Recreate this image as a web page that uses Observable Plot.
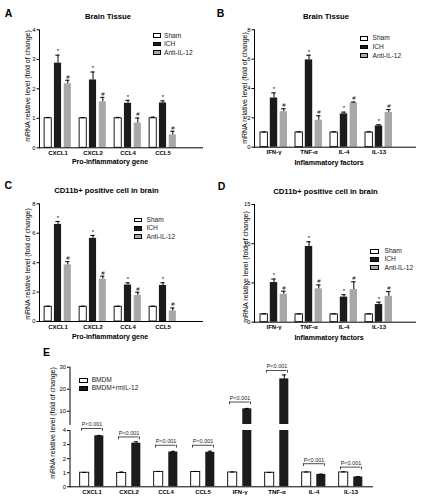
<!DOCTYPE html>
<html><head><meta charset="utf-8">
<script src="https://cdn.jsdelivr.net/npm/d3@7"></script>
<script src="https://cdn.jsdelivr.net/npm/@observablehq/plot@0.6"></script>
<style>
body{margin:0;background:#fff;}
#fig{position:relative;width:426px;height:500px;overflow:hidden;background:#fff;font-family:"Liberation Sans",Arial,sans-serif;color:#000;}
#fig svg{position:absolute;left:0;top:0;}
#fig svg g[aria-label^="x-axis"] text{font-weight:bold;font-size:6px;}
#fig svg g[aria-label^="y-axis"] text{font-size:5.8px;}
.t{position:absolute;white-space:nowrap;line-height:1;}
.sw{position:absolute;box-sizing:border-box;}
</style></head>
<body><div id="fig"></div>
<script>
// ---------- DATA ----------
const geneCats = ["CXCL1", "CXCL2", "CCL4", "CCL5"];
const factorCats = ["IFN-γ", "TNF-α", "IL-4", "IL-13"];
const eCats = ["CXCL1", "CXCL2", "CCL4", "CCL5", "IFN-γ", "TNF-α", "IL-4", "IL-13"];
const groupNames = ["Sham", "ICH", "Anti-IL-12"];
const groupSymbols = ["", "*", "#"];
const eGroupNames = ["BMDM", "BMDM+rmIL-12"];
const yTitle = "mRNA relative level (fold of change)";
const pLabel = "P<0.001";

// A: Brain tissue, pro-inflammatory genes
const aSham = [1.00, 1.00, 1.00, 1.00];
const aShamErr = [0.03, 0.02, 0.03, 0.04];
const aICH = [2.87, 2.30, 1.51, 1.52];
const aICHErr = [0.27, 0.27, 0.10, 0.07];
const aAnti = [2.17, 1.56, 0.84, 0.44];
const aAntiErr = [0.12, 0.15, 0.17, 0.12];
const aYTicks = [0, 1, 2, 3, 4];

// B: Brain tissue, inflammatory factors
const bSham = [1.00, 1.00, 1.00, 1.00];
const bShamErr = [0.04, 0.05, 0.05, 0.05];
const bICH = [3.35, 5.95, 2.27, 1.45];
const bICHErr = [0.35, 0.32, 0.12, 0.08];
const bAnti = [2.42, 1.84, 3.02, 2.37];
const bAntiErr = [0.20, 0.30, 0.06, 0.20];
const bYTicks = [0, 2, 4, 6, 8];

// C: CD11b+ cells, pro-inflammatory genes
const cSham = [1.00, 1.00, 1.00, 1.00];
const cShamErr = [0.04, 0.04, 0.04, 0.04];
const cICH = [6.60, 5.65, 2.48, 2.45];
const cICHErr = [0.20, 0.20, 0.15, 0.18];
const cAnti = [3.85, 2.88, 1.77, 0.72];
const cAntiErr = [0.22, 0.20, 0.22, 0.20];
const cYTicks = [0, 2, 4, 6, 8];

// D: CD11b+ cells, inflammatory factors
const dSham = [1.00, 1.00, 1.00, 1.00];
const dShamErr = [0.05, 0.05, 0.05, 0.05];
const dICH = [5.05, 9.65, 3.20, 2.25];
const dICHErr = [0.45, 0.60, 0.30, 0.30];
const dAnti = [3.55, 4.25, 4.15, 3.30];
const dAntiErr = [0.40, 0.50, 1.00, 0.60];
const dYTicks = [0, 5, 10, 15];

// E: BMDM vs BMDM+rmIL-12 (broken axis)
const eBMDM = [1.00, 0.98, 1.06, 1.05, 1.02, 1.00, 1.02, 1.02];
const eBMDMErr = [0.02, 0.07, 0.03, 0.04, 0.03, 0.02, 0.03, 0.04];
const eRm = [3.62, 3.10, 2.47, 2.45, 11.1, 24.7, 0.88, 0.70];
const eRmErr = [0.03, 0.10, 0.05, 0.08, 0.20, 1.80, 0.02, 0.02];
const eBracket = [4.14, 3.54, 2.95, 2.95, 14.2, 28.5, 1.64, 1.40];
const eYTicksLow = [0, 1, 2, 3, 4];
const eYTicksHigh = [10, 20, 30];

// ---------- STYLE ----------
const colSham = "#ffffff", colICH = "#1b1b1b", colAnti = "#a8a8a8";
const fig = document.getElementById("fig");

function barPanel(p) {
  const n = p.cats.length;
  const bw = (p.xRange[1] - p.xRange[0]) / n;
  const marks = [];
  p.series.forEach((s, i) => {
    const d = p.cats.map((c, j) => ({cat: c, v: s.vals[j], top: s.vals[j] + s.errs[j]}));
    const dx = p.offsets[i];
    const ins = (bw - p.barW) / 2, cins = (bw - p.capW) / 2;
    marks.push(Plot.barY(d, {x: "cat", y: "v", dx, insetLeft: ins, insetRight: ins, fill: s.fill, stroke: s.stroke || "none", strokeWidth: 0.9, clip: p.clip}));
    marks.push(Plot.ruleX(d, {x: "cat", y1: "v", y2: "top", dx, stroke: "#000", strokeWidth: 1, clip: p.clip}));
    marks.push(Plot.tickY(d, {x: "cat", y: "top", dx, insetLeft: cins, insetRight: cins, stroke: "#000", strokeWidth: 1, clip: p.clip}));
    if (s.sym) marks.push(Plot.text(d, {x: "cat", y: "top", text: () => s.sym, dx, dy: -3.6, fontSize: 6, fill: "#000", clip: p.clip}));
  });
  if (p.extra) marks.push(...p.extra(bw));
  if (p.xAxis) marks.push(Plot.ruleY([p.yDomain[0]], {stroke: "#000", strokeWidth: 1}));
  const svg = Plot.plot({
    width: 426, height: 500,
    marginLeft: p.frame.l, marginRight: 426 - p.frame.r,
    marginTop: p.frame.t, marginBottom: 500 - p.frame.b,
    x: {domain: p.cats, range: p.xRange, padding: 0, axis: p.xAxis ? "bottom" : null, tickSize: 0, tickPadding: 3, label: null},
    y: {domain: p.yDomain, ticks: p.yTicks, tickSize: 2.5, tickPadding: 1.5, line: true, label: null, tickFormat: d => String(d)},
    style: {background: "none", overflow: "visible", fontFamily: "Liberation Sans, Arial, sans-serif", fontSize: "5.8px", color: "#000"},
    marks
  });
  fig.appendChild(svg);
}

function three(sham, shamErr, ich, ichErr, anti, antiErr) {
  return [
    {vals: sham, errs: shamErr, fill: colSham, stroke: "#000", sym: groupSymbols[0]},
    {vals: ich, errs: ichErr, fill: colICH, sym: groupSymbols[1]},
    {vals: anti, errs: antiErr, fill: colAnti, sym: groupSymbols[2]}
  ];
}

const leftLayout = {xRange: [39.5, 180.5], offsets: [-9.8, 0, 9.8], barW: 7.4, capW: 4.5};
const rightLayout = {xRange: [255.8, 395.8], offsets: [-9.8, 0, 9.8], barW: 7.4, capW: 4.5};

barPanel({...leftLayout, cats: geneCats, series: three(aSham, aShamErr, aICH, aICHErr, aAnti, aAntiErr),
  frame: {l: 39, r: 203, t: 29.3, b: 147.3}, yDomain: [0, 4], yTicks: aYTicks, xAxis: true});
barPanel({...rightLayout, cats: factorCats, series: three(bSham, bShamErr, bICH, bICHErr, bAnti, bAntiErr),
  frame: {l: 254, r: 416, t: 29.3, b: 146.7}, yDomain: [0, 8], yTicks: bYTicks, xAxis: true});
barPanel({...leftLayout, cats: geneCats, series: three(cSham, cShamErr, cICH, cICHErr, cAnti, cAntiErr),
  frame: {l: 39, r: 203, t: 203.3, b: 321}, yDomain: [0, 8], yTicks: cYTicks, xAxis: true});
barPanel({...rightLayout, cats: factorCats, series: three(dSham, dShamErr, dICH, dICHErr, dAnti, dAntiErr),
  frame: {l: 254, r: 416, t: 204, b: 321.7}, yDomain: [0, 15], yTicks: dYTicks, xAxis: true});

// E: broken axis drawn as two stacked plots sharing x
const eSeries = [
  {vals: eBMDM, errs: eBMDMErr, fill: colSham, stroke: "#000"},
  {vals: eRm, errs: eRmErr, fill: colICH}
];
const eBrackets = eCats.map((c, j) => ({cat: c, b: eBracket[j]}));
const eBreak = 4;
function bracketMarks(data, drop) {
  return (bw) => {
    const half = 10.5, ins = bw / 2 - half;
    return [
      Plot.tickY(data, {x: "cat", y: "b", insetLeft: ins, insetRight: ins, stroke: "#000", strokeWidth: 0.7}),
      Plot.ruleX(data, {x: "cat", y1: "b", y2: d => d.b - drop, dx: -half, stroke: "#000", strokeWidth: 0.7}),
      Plot.ruleX(data, {x: "cat", y1: "b", y2: d => d.b - drop, dx: half, stroke: "#000", strokeWidth: 0.7}),
      Plot.text(data, {x: "cat", y: "b", text: () => pLabel, dy: -3.8, fontSize: 5.5, fill: "#222"})
    ];
  };
}
const eLayout = {cats: eCats, series: eSeries, xRange: [69.5, 373], offsets: [-7.3, 7.3], barW: 10, capW: 5, clip: true};
barPanel({...eLayout, frame: {l: 69.5, r: 373, t: 430, b: 486.3}, yDomain: [0, eBreak], yTicks: eYTicksLow, xAxis: true,
  extra: bracketMarks(eBrackets.filter(d => d.b < eBreak + 1), 0.2)});
barPanel({...eLayout, frame: {l: 69.5, r: 373, t: 366.7, b: 424}, yDomain: [eBreak, 30], yTicks: eYTicksHigh, xAxis: false,
  extra: bracketMarks(eBrackets.filter(d => d.b >= eBreak + 1), 1.2)});

// ---------- TEXT & LEGENDS (HTML) ----------
function txt(s, x, y, css, anchor) {
  const el = document.createElement("div");
  el.className = "t";
  el.textContent = s;
  el.style.left = x + "px";
  el.style.top = y + "px";
  el.style.transform = anchor || "translate(-50%,-50%)";
  Object.assign(el.style, css);
  fig.appendChild(el);
}
const letterCss = {fontSize: "10.5px", fontWeight: "bold"};
[["A", 8.5, 12.5], ["B", 220.5, 12.7], ["C", 8.3, 184.5], ["D", 221.5, 186], ["E", 46.5, 351.5]]
  .forEach(([s, x, y]) => txt(s, x, y, letterCss));

const titleCss = {fontSize: "7.7px", fontWeight: "bold"};
txt("Brain Tissue", 108, 16.5, titleCss);
txt("Brain Tissue", 326, 16.5, titleCss);
txt("CD11b+ positive cell in brain", 106.5, 191, titleCss);
txt("CD11b+ positive cell in brain", 325.5, 191.5, titleCss);

const xtCss = {fontSize: "7px", fontWeight: "bold"};
txt("Pro-inflammatory gene", 110, 161, xtCss);
txt("Inflammatory factors", 329, 161.5, xtCss);
txt("Pro-inflammatory gene", 110, 335.5, xtCss);
txt("Inflammatory factors", 329, 337, xtCss);

const ytCss = {fontSize: "7px"};
const rot = "translate(-50%,-50%) rotate(-90deg)";
[[26.5, 86], [243.5, 87.5], [27, 264], [244.5, 266.5], [52, 422.5]]
  .forEach(([x, y]) => txt(yTitle, x, y, ytCss, rot));

function legend(names, fills, boxX, rows, textX, bw, bh) {
  names.forEach((nm, i) => {
    const b = document.createElement("div");
    b.className = "sw";
    Object.assign(b.style, {left: boxX + "px", top: (rows[i] - bh / 2) + "px", width: bw + "px", height: bh + "px",
      background: fills[i], border: "1px solid #000"});
    fig.appendChild(b);
    txt(nm, textX, rows[i], {fontSize: "6.6px", color: "#222"}, "translate(0,-50%)");
  });
}
const f3 = [colSham, colICH, colAnti];
legend(groupNames, f3, 153, [35.7, 44.2, 52.7], 164, 8, 4.6);
legend(groupNames, f3, 360, [38.3, 47, 55.7], 372.5, 8, 4.6);
legend(groupNames, f3, 133.5, [220, 228.3, 236.7], 146.5, 8, 4.6);
legend(groupNames, f3, 370, [251, 259.3, 267.6], 384.5, 9, 5);
legend(eGroupNames, [colSham, colICH], 79.3, [380, 388.3], 91.7, 9, 5);
</script></body></html>
